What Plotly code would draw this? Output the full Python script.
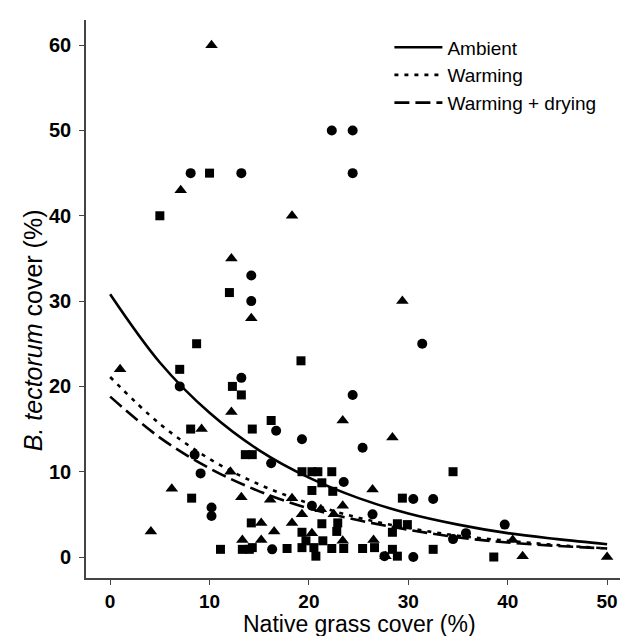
import plotly.graph_objects as go

# ---------------- data ----------------
sq_x = [10, 5, 12, 8.7, 19.2, 7, 12.3, 13.2, 16.2, 8.1, 14.3, 13.6, 14.3, 19.3, 20.3, 20.9,
        22.3, 34.5, 21.3, 20.3, 22.4, 8.2, 29.4, 14.2, 21.3, 22.9, 28.9, 29.9, 19.3, 22.8,
        28.4, 21.4, 19.7, 11.1, 13.3, 14, 14.3, 17.8, 19.3, 20.5, 22.3, 23.5, 25.4, 26.6,
        28.4, 32.5, 20.7, 28.9, 38.6]
sq_y = [45, 40, 31, 25, 23, 22, 20, 19, 16, 15, 15, 12, 12, 10, 10, 10,
        10, 10, 8.7, 7.8, 7.7, 6.9, 6.9, 4, 3.9, 4, 3.9, 3.8, 2.9, 3,
        2.9, 1.9, 1.9, 0.9, 0.9, 0.9, 1.1, 1, 1.1, 1.1, 1, 1, 1, 1.1,
        0.9, 0.9, 0.1, 0.1, 0]

ci_x = [22.3, 24.4, 8.1, 13.2, 24.4, 14.2, 14.2, 31.4, 13.2, 7, 24.4, 16.7, 19.3, 25.4, 8.5,
        16.2, 9.1, 23.5, 30.5, 32.5, 20.3, 10.2, 10.2, 26.4, 39.7, 34.5, 35.8, 16.3, 27.6, 30.5]
ci_y = [50, 50, 45, 45, 45, 33, 30, 25, 21, 20, 19, 14.8, 13.8, 12.8, 12,
        11, 9.8, 8.8, 6.8, 6.8, 6, 5.8, 4.8, 5, 3.8, 2.1, 2.8, 0.9, 0.1, 0]

tr_x = [10.2, 7.1, 18.3, 12.2, 14.2, 29.4, 1, 12.2, 23.4, 9.2, 28.4, 12.1, 26.4, 6.2, 13.2,
        16.1, 18.3, 23.4, 21.2, 22.5, 19.3, 4.1, 15.2, 18.3, 16.5, 20.3, 13.3, 15.2, 26.5,
        23.4, 40.5, 41.5, 50, 27.7]
tr_y = [60, 43, 40, 35, 28, 30, 22, 17, 16, 15, 14, 10, 7.9, 8, 7,
        6.7, 6.9, 6, 5.6, 5, 5, 3, 4, 4, 3, 2.8, 2, 2, 2,
        1.9, 2, 0.1, 0, 0.1]

curve_x = [0, 5, 10, 15, 20, 25, 30, 35, 40, 45, 50]
ambient_y = [30.8, 22.8, 16.9, 12.5, 9.3, 6.9, 5.1, 3.8, 2.8, 2.1, 1.5]
warming_y = [21.1, 15.6, 11.5, 8.5, 6.3, 4.6, 3.4, 2.5, 1.9, 1.4, 1.0]
drying_y = [18.8, 14.0, 10.4, 7.7, 5.7, 4.3, 3.2, 2.3, 1.7, 1.3, 1.0]

x_ticks = [0, 10, 20, 30, 40, 50]
y_ticks = [0, 10, 20, 30, 40, 50, 60]

x_title = "Native grass cover (%)"
y_title = "<i>B. tectorum</i> cover (%)"

# ---------------- figure ----------------
FONT = "Liberation Sans, Arial, sans-serif"
fig = go.Figure()

for xs, ys, sym, size in [(sq_x, sq_y, "square", 9), (ci_x, ci_y, "circle", 10),
                          (tr_x, tr_y, "triangle-up", 11)]:
    fig.add_trace(go.Scatter(x=xs, y=ys, mode="markers", showlegend=False,
                             marker=dict(symbol=sym, size=size, color="black",
                                         line=dict(width=0))))

for name, ys, dash in [("Ambient", ambient_y, "solid"),
                       ("Warming", warming_y, "4px,6px"),
                       ("Warming + drying", drying_y, "15px,6px")]:
    fig.add_trace(go.Scatter(x=curve_x, y=ys, mode="lines", name=name,
                             line=dict(color="black", width=2.6, dash=dash, shape="spline")))

fig.update_layout(
    width=628, height=636,
    margin=dict(l=78, r=13, t=12, b=66),
    paper_bgcolor="white", plot_bgcolor="white",
    font=dict(family=FONT, color="black"),
    legend=dict(x=0.565, y=0.985, xanchor="left", yanchor="top",
                font=dict(size=19, family=FONT), bgcolor="rgba(0,0,0,0)",
                itemwidth=48, tracegroupgap=0),
    annotations=[
        dict(text=x_title, xref="paper", yref="paper", x=0.51, y=-0.0824,
             xanchor="center", yanchor="middle", showarrow=False,
             font=dict(size=23, family=FONT)),
        dict(text=y_title, xref="paper", yref="paper", x=-0.0987, y=0.444,
             xanchor="center", yanchor="middle", textangle=-90, showarrow=False,
             font=dict(size=25, family=FONT)),
    ],
)
fig.update_xaxes(range=[-2.43, 51.6], tickvals=x_ticks, showgrid=False, zeroline=False,
                 showline=True, linecolor="#444", linewidth=1.6, ticks="outside",
                 ticklen=5, tickwidth=1.4, tickcolor="#444",
                 tickfont=dict(size=19, family=FONT, weight="bold"))
fig.update_yaxes(range=[-2.46, 62.95], tickvals=y_ticks, showgrid=False, zeroline=False,
                 showline=True, linecolor="#444", linewidth=1.6, ticks="outside",
                 ticklen=5, tickwidth=1.4, tickcolor="#444", ticklabelstandoff=4,
                 tickfont=dict(size=20, family=FONT, weight="bold"))

fig.write_html("out.html")
